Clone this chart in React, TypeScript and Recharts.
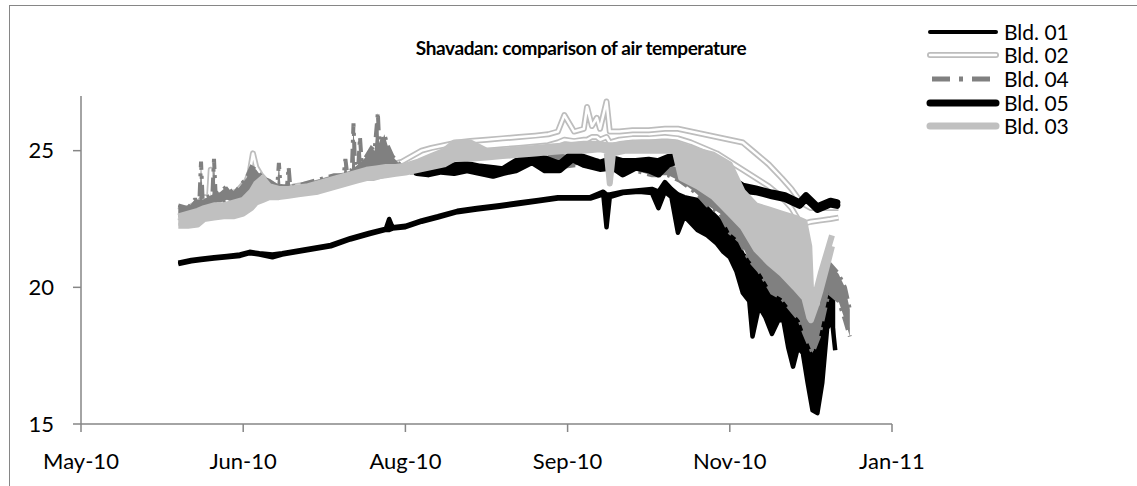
import React from 'react';
import { ComposedChart, Area, XAxis, YAxis } from 'recharts';

// each point: [excel date serial, low, high] - the daily spread of the logger
type Pt = [number, number, number];

const X_TICKS = [40300, 40350, 40400, 40450, 40500, 40550];
const X_LABELS = ['May-10', 'Jun-10', 'Aug-10', 'Sep-10', 'Nov-10', 'Jan-11'];
const Y_TICKS = [15, 20, 25];

const BLD01: Pt[] = [
  [40330, 20.85, 20.9], [40334, 20.95, 21.0], [40337, 21.0, 21.05], [40341, 21.05, 21.1],
  [40345, 21.1, 21.15], [40349, 21.15, 21.2], [40352, 21.25, 21.3], [40355, 21.2, 21.25],
  [40359, 21.1, 21.2], [40362, 21.2, 21.25], [40367, 21.3, 21.35], [40372, 21.4, 21.45],
  [40377, 21.5, 21.55], [40383, 21.75, 21.8], [40389, 21.95, 22.0], [40394, 22.1, 22.15],
  [40395, 22.1, 22.5], [40396, 22.15, 22.2], [40400, 22.2, 22.25], [40405, 22.4, 22.45],
  [40410, 22.55, 22.6], [40416, 22.75, 22.8], [40422, 22.85, 22.9], [40429, 22.95, 23.0],
  [40435, 23.05, 23.1], [40441, 23.15, 23.2], [40447, 23.25, 23.3], [40452, 23.25, 23.3],
  [40457, 23.25, 23.3], [40461, 23.4, 23.5], [40462, 22.2, 23.4], [40463, 23.3, 23.4],
  [40467, 23.45, 23.5], [40472, 23.5, 23.55], [40476, 23.45, 23.6], [40478, 22.9, 23.5],
  [40480, 23.5, 23.85], [40482, 23.3, 23.6], [40484, 22.0, 23.4], [40486, 22.6, 23.3],
  [40490, 22.1, 23.2], [40493, 21.9, 22.9], [40496, 21.6, 22.55], [40498, 21.3, 22.3],
  [40500, 21.1, 22.1], [40502, 20.6, 21.7], [40504, 19.8, 21.2], [40506, 19.5, 21.0],
  [40507, 18.2, 21.0], [40509, 19.3, 20.9], [40511, 18.9, 20.8], [40513, 18.3, 20.6],
  [40515, 18.8, 20.2], [40516.5, 18.8, 20.0], [40518, 17.8, 19.8], [40519.5, 17.1, 19.5],
  [40521, 17.8, 19.4], [40522.5, 17.6, 19.3], [40524, 16.5, 19.0], [40525.5, 15.5, 18.8],
  [40527, 15.4, 18.6], [40528.5, 16.5, 19.2], [40530, 18.5, 20.5], [40531.5, 18.8, 20.1],
  [40532.5, 17.7, 20.1],
];

const BLD02: Pt[] = [
  [40330, 22.4, 22.8], [40333, 22.5, 22.9], [40336, 22.6, 23.1], [40338, 22.7, 23.3],
  [40339.5, 22.8, 23.3], [40340, 22.8, 24.3], [40340.5, 22.8, 23.3], [40342, 22.8, 23.3],
  [40345, 22.9, 23.4], [40348, 23.0, 23.5], [40351, 23.1, 23.9], [40352, 23.2, 24.2],
  [40353, 23.3, 24.9], [40354, 23.4, 24.4], [40355.5, 23.5, 24.1], [40357, 23.5, 23.9],
  [40360, 23.4, 23.7], [40363, 23.4, 23.6], [40366, 23.45, 23.7], [40369, 23.5, 23.75],
  [40372, 23.55, 23.8], [40375, 23.65, 23.9], [40378, 23.75, 24.0], [40381, 23.85, 24.1],
  [40384, 23.9, 24.2], [40387, 24.0, 24.3], [40390, 24.0, 24.35], [40393, 24.1, 24.4],
  [40396, 24.2, 24.5], [40399, 24.3, 24.6], [40402, 24.4, 24.8], [40405, 24.5, 25.0],
  [40408, 24.6, 25.1], [40412, 24.7, 25.2], [40416, 24.8, 25.3], [40420, 24.9, 25.35],
  [40425, 25.0, 25.4], [40430, 25.05, 25.45], [40435, 25.1, 25.5], [40440, 25.15, 25.55],
  [40444, 25.2, 25.6], [40447, 25.3, 25.7], [40449, 25.4, 26.3], [40452, 25.35, 25.7],
  [40455, 25.4, 25.8], [40456, 25.4, 26.6], [40457.5, 25.5, 25.9], [40459, 25.5, 26.2],
  [40460, 25.4, 25.8], [40462, 25.5, 26.8], [40463, 25.3, 25.7], [40466, 25.4, 25.7],
  [40470, 25.45, 25.75], [40475, 25.45, 25.75], [40480, 25.5, 25.8], [40484, 25.45, 25.8],
  [40488, 25.3, 25.7], [40492, 25.1, 25.6], [40496, 24.9, 25.5], [40500, 24.6, 25.4],
  [40504, 24.3, 25.3], [40508, 24.0, 24.9], [40512, 23.7, 24.5], [40516, 23.3, 24.0],
  [40519, 22.9, 23.6], [40522, 22.3, 23.1], [40525, 22.4, 22.9], [40528, 22.45, 22.9],
  [40531, 22.5, 22.9], [40533.5, 22.55, 22.9],
];

const BLD04: Pt[] = [
  [40330, 22.6, 23.0], [40333, 22.7, 22.9], [40335, 22.7, 23.2], [40336.5, 22.8, 23.2],
  [40337, 22.9, 24.6], [40337.5, 22.9, 23.2], [40340.5, 23.0, 23.4], [40341, 23.1, 24.7],
  [40341.5, 23.1, 23.4], [40343, 23.1, 23.5], [40345, 23.2, 23.7], [40347, 23.1, 23.4],
  [40349, 23.2, 23.7], [40351, 23.4, 24.0], [40352.5, 23.6, 24.4], [40354, 23.7, 24.3],
  [40356, 23.7, 24.0], [40358, 23.6, 23.9], [40360.5, 23.5, 23.7], [40361, 23.5, 24.55],
  [40361.5, 23.5, 23.7], [40363.5, 23.5, 23.7], [40364, 23.5, 24.4], [40364.5, 23.5, 23.7],
  [40366, 23.5, 23.7], [40369, 23.55, 23.8], [40372, 23.6, 23.9], [40375, 23.7, 24.0],
  [40378, 23.8, 24.1], [40381, 23.9, 24.1], [40381.5, 23.9, 24.7], [40382, 23.9, 24.2],
  [40383.5, 24.0, 24.3], [40384, 24.1, 26.0], [40384.5, 24.1, 24.4], [40385.5, 24.1, 24.5],
  [40386, 24.2, 25.5], [40386.5, 24.2, 24.6], [40388, 24.2, 24.8], [40389.5, 24.3, 25.1],
  [40390.5, 24.4, 25.0], [40391.5, 24.4, 26.4], [40392, 24.4, 25.1], [40393.5, 24.4, 25.6],
  [40394.5, 24.4, 25.2], [40396, 24.3, 24.8], [40399, 24.2, 24.4], [40403, 24.2, 24.4],
  [40410, 24.3, 24.4], [40420, 24.3, 24.45], [40430, 24.2, 24.35], [40440, 24.6, 24.75],
  [40448, 24.4, 24.9], [40455, 24.5, 24.7], [40462, 24.4, 24.6], [40470, 24.3, 24.5],
  [40476, 24.1, 24.4], [40481, 24.1, 24.4], [40484.5, 23.9, 24.3], [40488, 23.6, 24.0],
  [40490, 23.4, 23.8], [40493, 23.0, 23.5], [40497, 22.7, 23.2], [40500, 22.0, 22.7],
  [40503, 21.7, 22.3], [40506, 21.0, 21.8], [40509, 20.6, 21.5], [40513, 19.8, 20.7],
  [40516, 19.6, 20.6], [40518, 19.3, 20.5], [40521.5, 18.8, 19.8], [40523, 18.3, 19.6],
  [40525.5, 17.6, 19.4], [40527.5, 18.2, 19.3], [40529, 19.0, 20.2], [40530.5, 19.8, 20.9],
  [40533.5, 19.5, 20.5], [40535.5, 18.8, 20.0], [40537, 18.2, 19.2],
];

const BLD05: Pt[] = [
  [40403.5, 24.2, 24.3], [40407, 24.15, 24.35], [40411, 24.25, 24.4], [40415, 24.2, 24.45],
  [40419, 24.3, 24.5], [40423, 24.2, 24.4], [40427, 24.1, 24.35], [40430, 24.2, 24.3],
  [40434, 24.3, 24.6], [40439, 24.6, 24.8], [40443, 24.3, 24.7], [40447.5, 24.3, 24.5],
  [40451.5, 24.7, 24.9], [40455, 24.5, 24.75], [40460, 24.35, 24.55], [40464, 24.4, 24.7],
  [40467, 24.15, 24.6], [40471, 24.4, 24.6], [40475, 24.3, 24.65], [40478, 24.15, 24.6],
  [40481, 24.5, 24.75], [40484.5, 24.65, 24.8], [40490, 24.3, 24.5], [40496, 24.0, 24.2],
  [40500, 23.8, 24.0], [40504, 23.55, 23.7], [40508, 23.5, 23.6], [40513, 23.35, 23.45],
  [40517, 23.25, 23.35], [40521.5, 23.0, 23.1], [40523.5, 23.25, 23.35], [40527, 22.85, 22.95],
  [40531, 23.05, 23.15], [40533, 23.0, 23.1],
];

const BLD03: Pt[] = [
  [40330, 22.25, 22.6], [40333, 22.25, 22.7], [40336, 22.3, 22.8], [40338, 22.5, 22.9],
  [40341, 22.55, 23.0], [40344, 22.6, 23.0], [40347, 22.6, 23.1], [40350, 22.7, 23.2],
  [40352.5, 22.9, 23.5], [40354, 23.1, 23.8], [40356, 23.2, 24.0], [40358, 23.3, 23.7],
  [40361, 23.3, 23.6], [40364, 23.35, 23.6], [40367, 23.4, 23.65], [40370, 23.45, 23.7],
  [40373, 23.5, 23.8], [40376, 23.6, 23.9], [40379, 23.7, 24.0], [40382, 23.8, 24.1],
  [40385, 23.9, 24.2], [40388, 24.0, 24.3], [40391, 24.05, 24.35], [40394, 24.1, 24.4],
  [40397, 24.15, 24.4], [40400, 24.2, 24.45], [40404, 24.3, 24.6], [40408, 24.4, 24.8],
  [40412, 24.5, 25.0], [40415, 24.7, 25.3], [40420, 24.7, 25.3], [40425, 24.75, 25.0],
  [40430, 24.8, 25.0], [40435, 24.85, 25.05], [40440, 24.9, 25.1], [40445, 24.95, 25.15],
  [40450, 25.0, 25.2], [40455, 25.0, 25.25], [40460, 25.05, 25.25], [40462, 25.0, 25.2],
  [40463, 23.8, 25.2], [40464, 24.9, 25.2], [40468, 25.0, 25.25], [40473, 25.0, 25.3],
  [40478, 25.0, 25.3], [40483, 25.0, 25.3], [40485, 24.0, 25.2], [40490, 23.7, 25.0],
  [40495, 23.3, 24.85], [40500, 22.7, 24.5], [40504, 22.2, 23.5], [40508, 21.4, 23.0],
  [40512, 20.9, 22.85], [40516, 20.5, 22.7], [40520, 20.0, 22.55], [40523, 19.6, 22.4],
  [40524.5, 18.9, 21.5], [40525, 18.8, 20.0], [40526.5, 19.3, 19.8], [40528, 19.9, 20.5],
  [40530, 20.8, 21.3], [40531.5, 21.5, 21.9],
];

const rows = (pts: Pt[]) => pts.map(([d, lo, hi]) => ({ d, v: [lo, hi] }));

const AXIS = '#868686';
const FONT = 'Lato, "Open Sans", sans-serif';

const LEGEND = [
  { name: 'Bld. 01', kind: 'b01' },
  { name: 'Bld. 02', kind: 'b02' },
  { name: 'Bld. 04', kind: 'b04' },
  { name: 'Bld. 05', kind: 'b05' },
  { name: 'Bld. 03', kind: 'b03' },
];

function LegendIcon({ kind }: { kind: string }) {
  const y = 10;
  if (kind === 'b02') {
    return (
      <svg width={74} height={20}>
        <line x1={4} x2={70} y1={y} y2={y} stroke="#bdbdbd" strokeWidth={6} strokeLinecap="round" />
        <line x1={4} x2={70} y1={y} y2={y} stroke="#fff" strokeWidth={2.5} strokeLinecap="round" />
      </svg>
    );
  }
  const st: Record<string, any> = {
    b01: { stroke: '#000', strokeWidth: 4 },
    b04: { stroke: '#808080', strokeWidth: 5, strokeDasharray: '18 9 4 9' },
    b05: { stroke: '#000', strokeWidth: 7 },
    b03: { stroke: '#c0c0c0', strokeWidth: 7 },
  };
  return (
    <svg width={74} height={20}>
      <line x1={kind === 'b04' ? 6 : 4} x2={70} y1={y} y2={y} strokeLinecap={kind === 'b04' ? 'butt' : 'round'} {...st[kind]} />
    </svg>
  );
}

function ChartLegend() {
  return (
    <div style={{ position: 'absolute', left: 926, top: 20, fontFamily: FONT, fontSize: 21, color: '#000' }}>
      {LEGEND.map((l) => (
        <div key={l.name} style={{ display: 'flex', alignItems: 'center', height: 23.6 }}>
          <LegendIcon kind={l.kind} />
          <span style={{ marginLeft: 4, lineHeight: '20px' }}>{l.name}</span>
        </div>
      ))}
    </div>
  );
}

export default function App() {
  return (
    <div style={{ position: 'absolute', left: 0, top: 0, width: 1137, height: 486, background: '#fff', overflow: 'hidden' }}>
      <div
        style={{
          position: 'absolute',
          left: 9,
          top: 5,
          width: 1200,
          height: 600,
          borderTop: `1.5px solid ${AXIS}`,
          borderLeft: `1.5px solid ${AXIS}`,
        }}
      />
      <div
        style={{
          position: 'absolute',
          left: 300,
          width: 562,
          top: 36,
          textAlign: 'center',
          fontFamily: FONT,
          fontWeight: 700,
          fontSize: 19,
          letterSpacing: -0.4,
          lineHeight: '24px',
        }}
      >
        Shavadan: comparison of air temperature
      </div>
      <ChartLegend />
      <ComposedChart
        width={1137}
        height={486}
        margin={{ top: 96, right: 245, bottom: 22, left: 0 }}
        style={{ position: 'absolute', left: 0, top: 0 }}
      >
        <XAxis
          dataKey="d"
          type="number"
          domain={[40300, 40550]}
          ticks={X_TICKS}
          tickFormatter={(v: number) => X_LABELS[X_TICKS.indexOf(v)]}
          height={40}
          stroke={AXIS}
          strokeWidth={1.5}
          tickSize={8}
          tickMargin={21}
          tick={{ fill: '#000', fontSize: 22, fontFamily: FONT }}
          allowDataOverflow
        />
        <YAxis
          type="number"
          domain={[15, 27]}
          ticks={Y_TICKS}
          width={81}
          stroke={AXIS}
          strokeWidth={1.5}
          tickSize={8}
          tickMargin={19}
          tick={{ fill: '#000', fontSize: 22, fontFamily: FONT }}
          allowDataOverflow
        />
        <Area data={rows(BLD01)} dataKey="v" type="linear" stroke="#000" fill="#000" fillOpacity={1} strokeWidth={4.5}
          strokeLinejoin="round" dot={false} activeDot={false} isAnimationActive={false} />
        <Area data={rows(BLD02)} dataKey="v" type="linear" stroke="#bdbdbd" fill="#fff" fillOpacity={1} strokeWidth={6}
          strokeLinejoin="round" dot={false} activeDot={false} isAnimationActive={false} />
        <Area data={rows(BLD02)} dataKey="v" type="linear" stroke="#fff" fill="none" strokeWidth={2.5}
          strokeLinejoin="round" dot={false} activeDot={false} isAnimationActive={false} />
        <Area data={rows(BLD04)} dataKey="v" type="linear" stroke="#808080" fill="#808080" fillOpacity={1} strokeWidth={4}
          strokeDasharray="14 6 3 6" dot={false} activeDot={false} isAnimationActive={false} />
        <Area data={rows(BLD05)} dataKey="v" type="linear" stroke="#000" fill="#000" fillOpacity={1} strokeWidth={7}
          strokeLinejoin="round" strokeLinecap="round" dot={false} activeDot={false} isAnimationActive={false} />
        <Area data={rows(BLD03)} dataKey="v" type="linear" stroke="#c0c0c0" fill="#c0c0c0" fillOpacity={1} strokeWidth={6}
          strokeLinejoin="round" dot={false} activeDot={false} isAnimationActive={false} />
      </ComposedChart>
    </div>
  );
}
